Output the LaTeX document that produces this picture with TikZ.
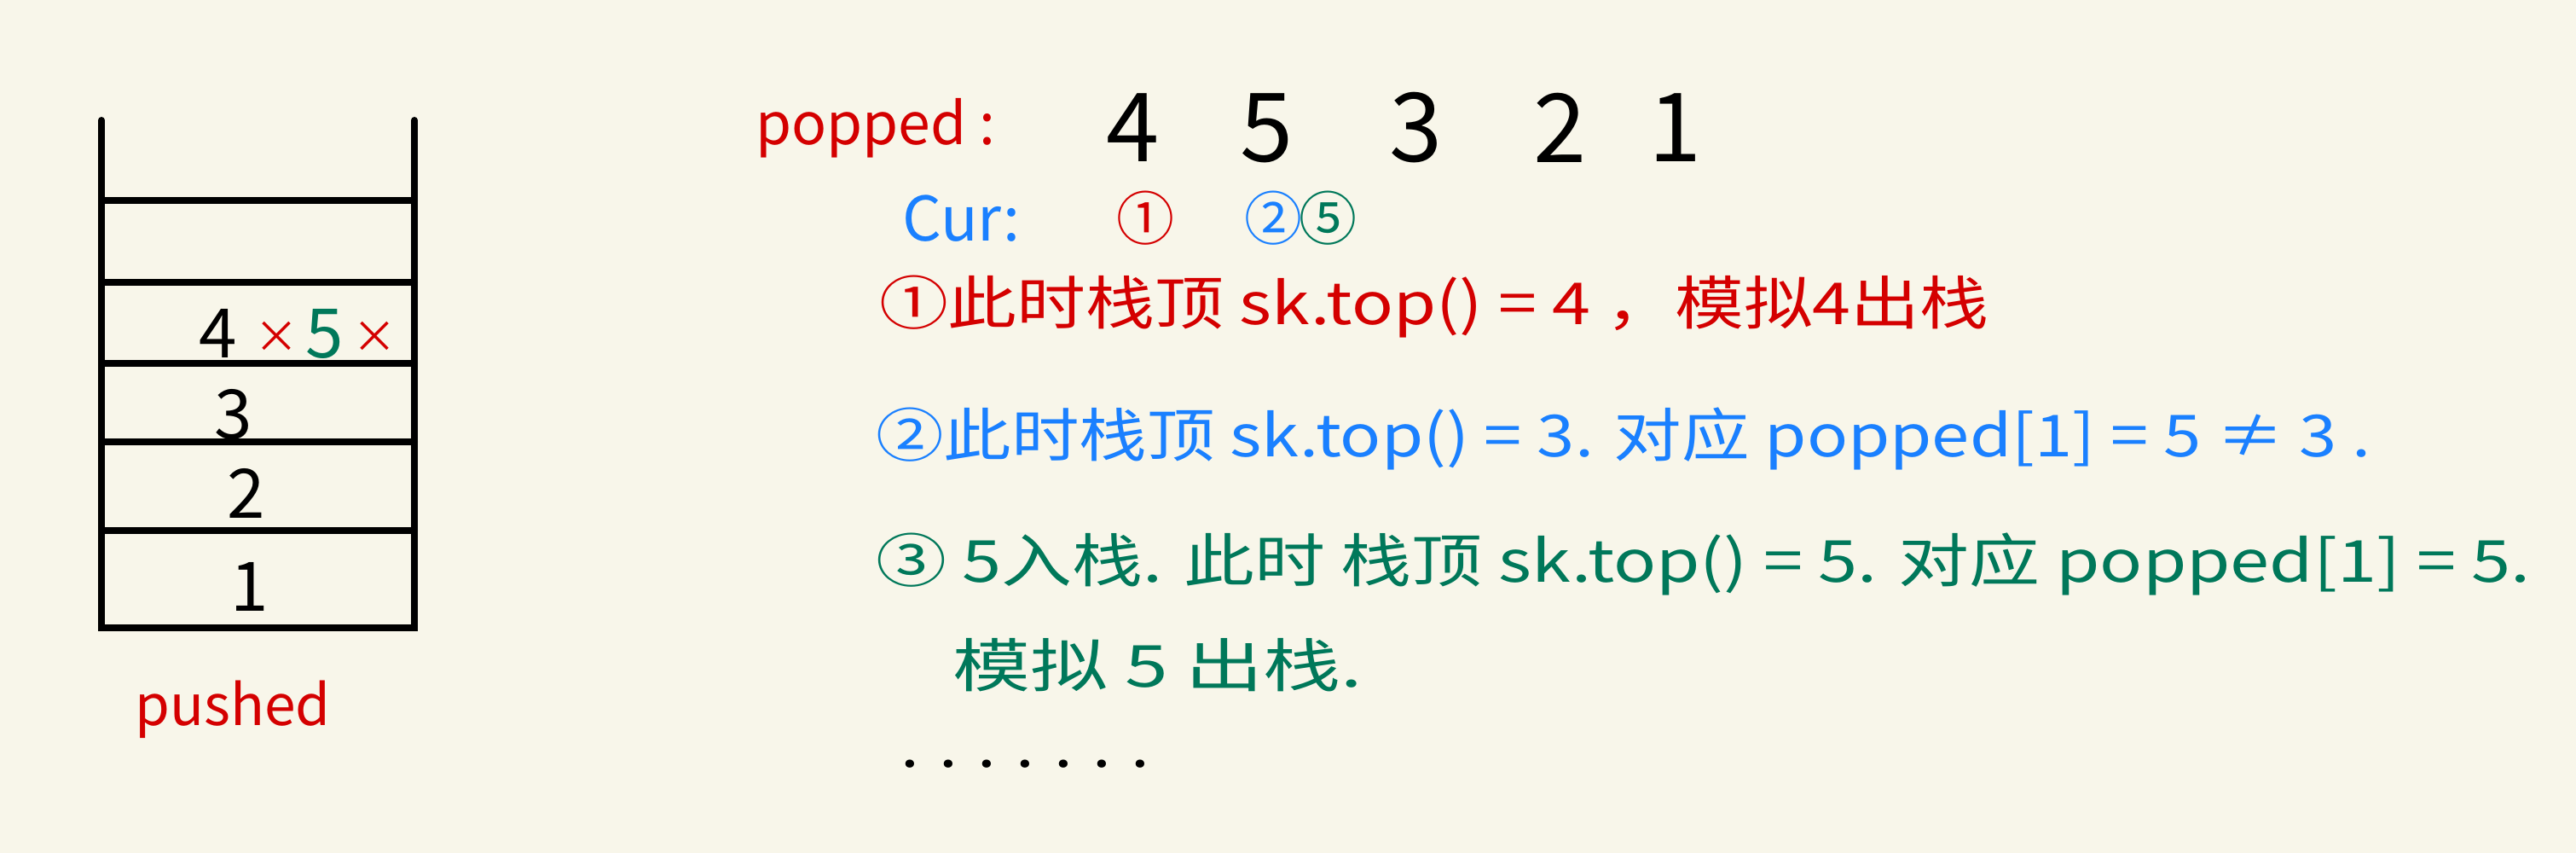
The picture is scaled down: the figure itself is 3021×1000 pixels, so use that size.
\documentclass[tikz,border=0pt]{standalone}
\usepackage{fontspec}
\setmainfont{Noto Sans CJK SC}
\definecolor{bg}{HTML}{F8F6EA}
\definecolor{hred}{HTML}{D40000}
\definecolor{hblue}{HTML}{1A80FF}
\definecolor{hgreen}{HTML}{00785A}
\newcommand{\fs}[1]{\fontsize{#1}{#1}\selectfont}
\begin{document}
\begin{tikzpicture}[x=0.5pt,y=-0.5pt,
  stk/.style={line width=4pt, line cap=round, black},
  txt/.style={inner sep=0pt, outer sep=0pt},
  line/.style={txt, anchor=west, font=\fs{34}}]
\fill[bg] (0,0) rectangle (3021,1000);
\useasboundingbox (0,0) rectangle (3021,1000);
% stack
\draw[stk] (119,141) -- (119,736) -- (486,736) -- (486,141);
\foreach \yy in {235,331,426,518,622} \draw[stk] (119,\yy) -- (486,\yy);
\node[txt, font=\fs{40}] (s4) at (256,391) {4};
\node[txt, font=\fs{26}, text=hred] (x1) at (324,395) {×};
\node[txt, font=\fs{40}, text=hgreen] (s5) at (381,391) {5};
\node[txt, font=\fs{26}, text=hred] (x2) at (439,395) {×};
\node[txt, font=\fs{40}] (s3) at (274,486) {3};
\node[txt, font=\fs{40}] (s2) at (289,578) {2};
\node[txt, font=\fs{40}] (s1) at (293,688) {1};
\node[txt, font=\fs{33}, text=hred] (pushed) at (273,832) {pushed};
% popped row
\node[txt, anchor=west, font=\fs{34}, text=hred] (popped) at (886,150) {popped :};
\node[txt, font=\fs{56}] (p4) at (1329,150) {4};
\node[txt, font=\fs{56}] (p5) at (1486,150) {5};
\node[txt, font=\fs{56}] (p3) at (1661,150) {3};
\node[txt, font=\fs{56}] (p2) at (1830,150) {2};
\node[txt, font=\fs{56}] (p1) at (1965,150) {1};
% cur row
\node[txt, anchor=west, font=\fs{36}, text=hblue] (cur) at (1058,256) {Cur:};
\node[txt, font=\fs{34}, text=hred] (c1) at (1343,256) {①};
\node[txt, font=\fs{34}, text=hblue] (c2) at (1493,256) {②};
\node[txt, font=\fs{34}, text=hgreen] (c5) at (1557,256) {⑤};
% explanation lines
\node[line, text=hred, xscale=1.19] (l1) at (1031,360) {①此时栈顶 sk.top() = 4 ，模拟4出栈};
\node[line, text=hblue, xscale=1.17] (l2) at (1027,514) {②此时栈顶 sk.top() = 3. 对应 popped[1] = 5 ≠ 3 .};
\node[line, text=hgreen, xscale=1.22] (l3) at (1027,661) {③ 5入栈. 此时 栈顶 sk.top() = 5. 对应 popped[1] = 5.};
\node[line, text=hgreen, xscale=1.34] (l4) at (1117,780) {模拟 5 出栈.};
\node[line, text=black, xscale=1.15] (dots) at (1056,896) {. . . . . . .};
\end{tikzpicture}
\end{document}
